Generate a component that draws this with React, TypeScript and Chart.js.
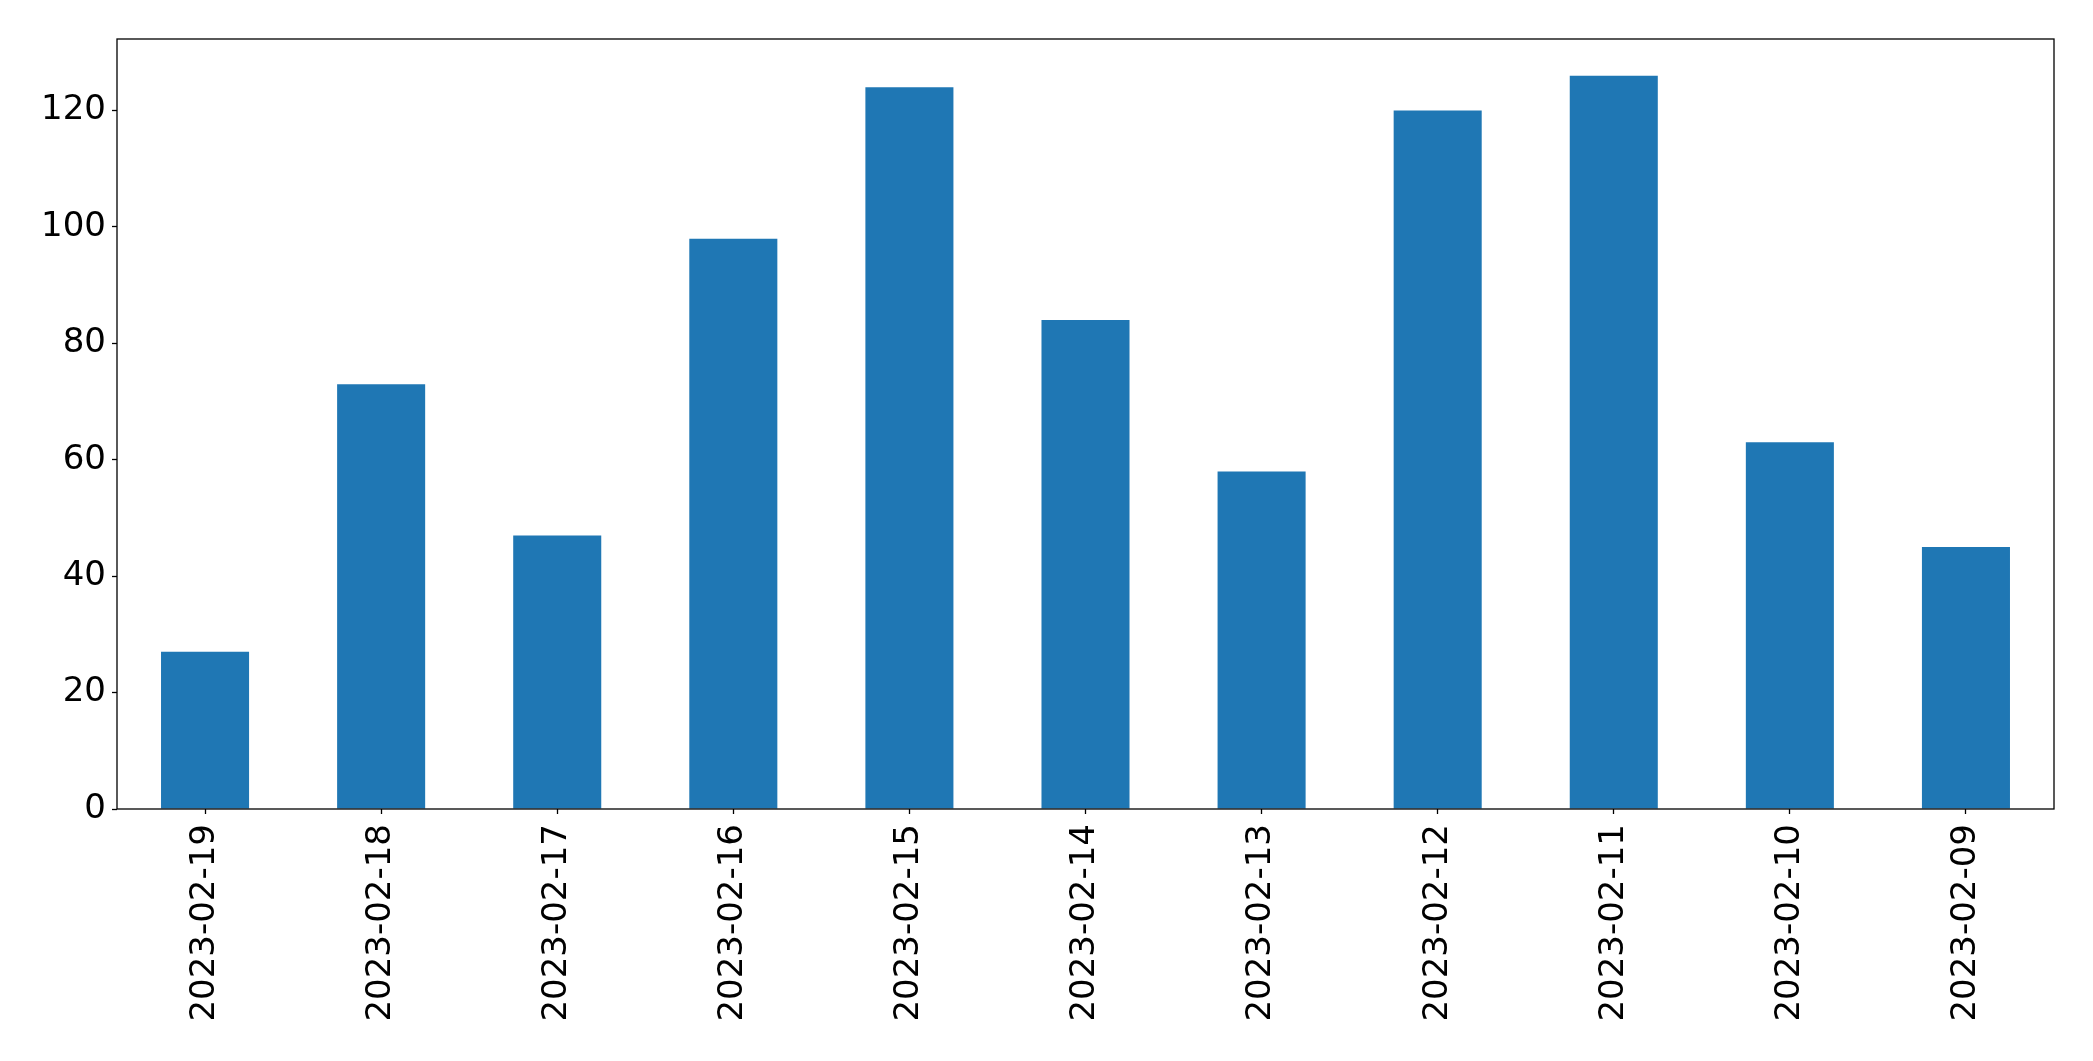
import React, { useEffect, useRef } from "react";
import { Chart, registerables } from "chart.js";

Chart.register(...registerables);

const categories = [
  "2023-02-19", "2023-02-18", "2023-02-17", "2023-02-16", "2023-02-15", "2023-02-14",
  "2023-02-13", "2023-02-12", "2023-02-11", "2023-02-10", "2023-02-09",
];
const values = [27, 73, 47, 98, 124, 84, 58, 120, 126, 63, 45];
const yTicks = [0, 20, 40, 60, 80, 100, 120];

const framePlugin = {
  id: "frame",
  afterDraw(chart: any) {
    const { ctx, chartArea } = chart;
    ctx.save();
    ctx.strokeStyle = "#000";
    ctx.lineWidth = 1.3;
    ctx.strokeRect(chartArea.left, chartArea.top, chartArea.right - chartArea.left, chartArea.bottom - chartArea.top);
    ctx.restore();
  },
};

export default function App() {
  const ref = useRef<HTMLCanvasElement>(null);
  useEffect(() => {
    document.body.style.margin = "0";
    const maxV = Math.max(...values) * 1.05;
    const chart = new Chart(ref.current!, {
      type: "bar",
      data: {
        labels: categories,
        datasets: [
          {
            data: values,
            backgroundColor: "#1f77b4",
            borderWidth: 0,
            categoryPercentage: 0.5,
            barPercentage: 1,
          },
        ],
      },
      options: {
        animation: false,
        responsive: false,
        maintainAspectRatio: false,
        layout: { padding: { top: 39, right: 39, left: 0, bottom: 0 } },
        plugins: { legend: { display: false }, tooltip: { enabled: false } },
        scales: {
          x: {
            offset: true,
            grid: { display: true, offset: false, drawOnChartArea: false, drawTicks: true, tickLength: 5, tickColor: "#000", tickWidth: 1.3 },
            border: { display: false },
            ticks: {
              minRotation: 90,
              maxRotation: 90,
              autoSkip: false,
              padding: 10,
              color: "#000",
              font: { family: "DejaVu Sans", size: 34 },
            },
            afterFit(scale: any) {
              scale.height = 252;
            },
          },
          y: {
            min: 0,
            max: maxV,
            grid: { display: true, drawOnChartArea: false, drawTicks: true, tickLength: 5, tickColor: "#000", tickWidth: 1.3 },
            border: { display: false },
            ticks: {
              padding: 6,
              color: "#000",
              font: { family: "DejaVu Sans", size: 34 },
            },
            afterBuildTicks(scale: any) {
              scale.ticks = yTicks.map((v) => ({ value: v }));
            },
            afterFit(scale: any) {
              scale.width = 117;
            },
          },
        },
      },
      plugins: [framePlugin],
    });
    return () => chart.destroy();
  }, []);
  return (
    <div style={{ width: 2093, height: 1061, background: "#fff" }}>
      <canvas ref={ref} width={2093} height={1061} style={{ display: "block" }} />
    </div>
  );
}
